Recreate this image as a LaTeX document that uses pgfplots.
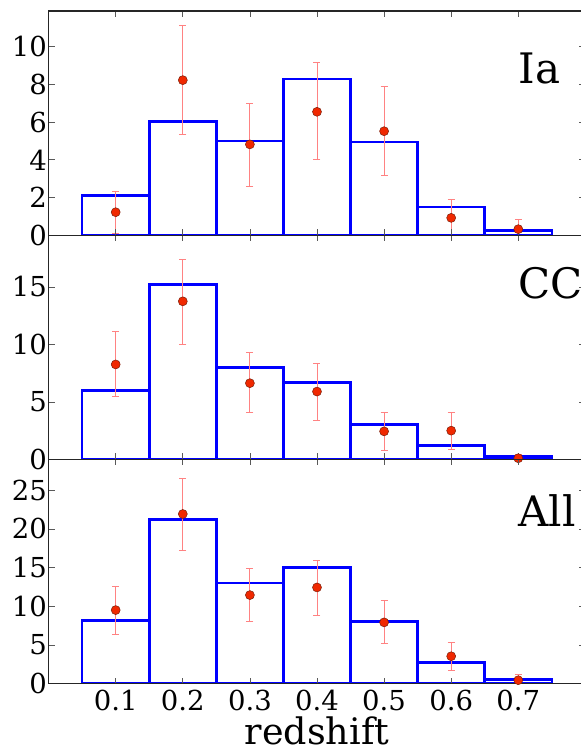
\documentclass[border=0pt]{standalone}
\usepackage{fontspec}
\setmainfont{DejaVu Serif}
\usepackage{pgfplots}
\pgfplotsset{compat=1.18}
\definecolor{errc}{RGB}{255,130,130}
\definecolor{ptfill}{RGB}{240,40,0}
\definecolor{ptedge}{RGB}{120,30,10}
\pgfplotsset{
  panel/.style={
    scale only axis, width=536.8pt, height=224.2pt,
    xmin=0, xmax=0.8,
    xtick={0.1,0.2,0.3,0.4,0.5,0.6,0.7},
    x tick label as interval=false,
    axis on top,
    tick align=inside,
    major tick length=6pt,
    every tick/.style={black!65, line width=0.7pt},
    axis line style={black!85, line width=1.3pt},
    /pgf/number format/assume math mode=true,
    tick label style={font=\fontsize{27.5}{27.5}\selectfont},
    yticklabel style={inner xsep=1.5pt},
    xticklabel style={anchor=base, yshift=-27pt},
    clip=true,
  },
  hist/.style={ybar interval, draw=blue, fill=none, line width=2.6pt},
  pts/.style={only marks, mark=*, mark size=4.5pt,
    mark options={fill=ptfill, draw=ptedge, line width=0.5pt},
    error bars/.cd, y dir=both, y explicit,
    error bar style={errc, line width=0.9pt},
    error mark options={rotate=90, mark size=3.5pt, errc, line width=0.9pt}},
}
\begin{document}
\begin{tikzpicture}
% Panel Ia
\begin{axis}[panel, at={(0,0)}, anchor=north west, ymin=0, ymax=11.9,
  ytick={0,2,4,6,8,10}, xticklabels={}]
\addplot[hist] coordinates {(0.05,2.1)(0.15,6.05)(0.25,5.0)(0.35,8.3)(0.45,4.95)(0.55,1.5)(0.65,0.25)(0.75,0)};
\addplot[pts] coordinates {
 (0.1,1.22) += (0,1.08) -= (0,1.12)
 (0.2,8.23) += (0,2.92) -= (0,2.87)
 (0.3,4.82) += (0,2.15) -= (0,2.22)
 (0.4,6.55) += (0,2.60) -= (0,2.53)
 (0.5,5.52) += (0,2.36) -= (0,2.33)
 (0.6,0.92) += (0,0.98) -= (0,0.98)
 (0.7,0.32) += (0,0.53) -= (0,0.53)
};
\node[anchor=base west, inner sep=0pt, font=\fontsize{42}{42}\selectfont] at (axis cs:0.7,8.07) {Ia};
\end{axis}
% Panel CC
\begin{axis}[panel, at={(0,-224.2pt)}, anchor=north west, ymin=0, ymax=19.5,
  ytick={0,5,10,15}, xticklabels={}]
\addplot[hist] coordinates {(0.05,6.0)(0.15,15.2)(0.25,8.0)(0.35,6.7)(0.45,3.05)(0.55,1.2)(0.65,0.25)(0.75,0)};
\addplot[pts] coordinates {
 (0.1,8.26) += (0,2.90) -= (0,2.82)
 (0.2,13.75) += (0,3.66) -= (0,3.78)
 (0.3,6.63) += (0,2.65) -= (0,2.56)
 (0.4,5.90) += (0,2.44) -= (0,2.47)
 (0.5,2.44) += (0,1.61) -= (0,1.62)
 (0.6,2.50) += (0,1.60) -= (0,1.63)
 (0.7,0.10) += (0,0.30) -= (0,0.30)
};
\node[anchor=base west, inner sep=0pt, font=\fontsize{42}{42}\selectfont] at (axis cs:0.7,14.0) {CC};
\end{axis}
% Panel All
\begin{axis}[panel, at={(0,-448.4pt)}, anchor=north west, ymin=0, ymax=29,
  ytick={0,5,10,15,20,25},
  xticklabels={0.1,0.2,0.3,0.4,0.5,0.6,0.7},
  xlabel={redshift},
  xlabel style={font=\fontsize{36.5}{36.5}\selectfont, at={(axis description cs:0.5,0)}, anchor=base, yshift=-61pt}]
\addplot[hist] coordinates {(0.05,8.2)(0.15,21.2)(0.25,13.0)(0.35,15.0)(0.45,8.0)(0.55,2.75)(0.65,0.5)(0.75,0)};
\addplot[pts] coordinates {
 (0.1,9.51) += (0,3.01) -= (0,3.19)
 (0.2,21.94) += (0,4.60) -= (0,4.69)
 (0.3,11.45) += (0,3.44) -= (0,3.36)
 (0.4,12.44) += (0,3.48) -= (0,3.58)
 (0.5,7.92) += (0,2.88) -= (0,2.76)
 (0.6,3.54) += (0,1.80) -= (0,1.86)
 (0.7,0.44) += (0,0.77) -= (0,0.77)
};
\node[anchor=base west, inner sep=0pt, font=\fontsize{42}{42}\selectfont] at (axis cs:0.7,20.3) {All};
\end{axis}
\pgfresetboundingbox
\useasboundingbox (-48.6pt,11pt) rectangle (532.4pt,-739pt);
\end{tikzpicture}
\end{document}
